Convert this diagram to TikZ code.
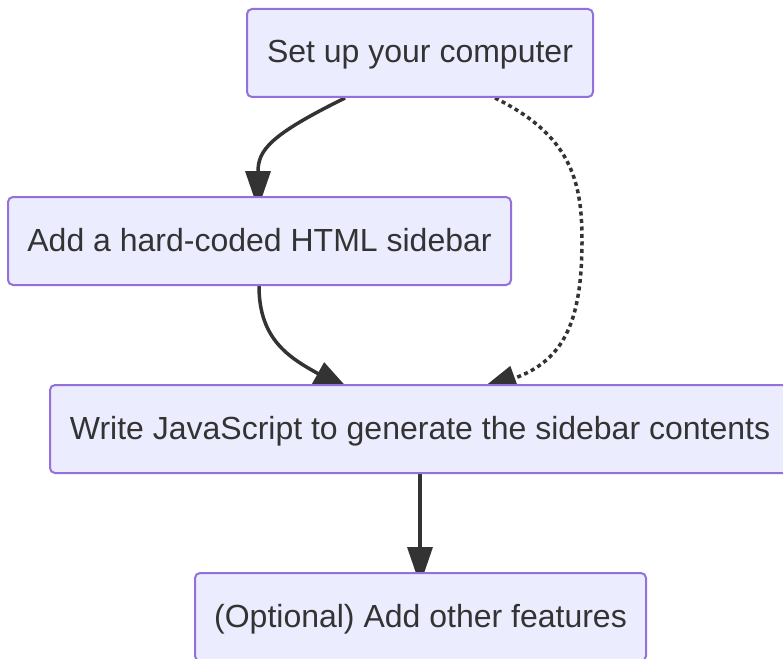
\documentclass[tikz,border=0pt]{standalone}
\usepackage{fontspec}
\setmainfont{Liberation Sans}
\usetikzlibrary{arrows.meta}
\definecolor{nodefill}{HTML}{ECECFF}
\definecolor{nodeline}{HTML}{9370DB}
\definecolor{ink}{HTML}{333333}
\pgfdeclarelayer{edges}
\pgfsetlayers{edges,main}
\begin{document}
\begin{tikzpicture}[x=1pt,y=-1pt,
  stepbox/.style={draw=nodeline, fill=nodefill, line width=2pt, rounded corners=5pt,
    minimum height=88pt, inner sep=0pt, text=ink, text height=22pt, text depth=2pt,
    font=\fontsize{32}{38}\selectfont},
  flow/.style={draw=ink, line width=3.5pt, -{Triangle[length=38pt,width=25pt]}},
  dotflow/.style={flow, dash pattern=on 4pt off 3.5pt}]
\useasboundingbox (0,0) rectangle (783,658);
\node[stepbox, minimum width=346pt] (A) at (420,53) {Set up your computer};
\node[stepbox, minimum width=503pt] (B) at (259.5,241) {Add a hard-coded HTML sidebar};
\node[stepbox, minimum width=740pt] (C) at (420,429) {Write JavaScript to generate the sidebar contents};
\node[stepbox, minimum width=451pt] (D) at (420.5,617) {(Optional) Add other features};
\coordinate (ab) at ([xshift=-1.5pt,yshift=-13pt]B.north);
\coordinate (bc) at ([xshift=-69pt,yshift=-8pt]C.north);
\coordinate (ac) at ([xshift=59pt,yshift=-7pt]C.north);
\coordinate (cd) at ([xshift=-0.5pt,yshift=-13pt]D.north);
\begin{pgfonlayer}{edges}
\fill[white] (0,0) rectangle (783,658);
\draw[flow] ([xshift=-75pt]A.south) .. controls (270,135) and (258,150) .. (ab);
\draw[flow] ([xshift=-0.5pt]B.south) .. controls (259,340) and (290,358) .. (bc);
\draw[dotflow] ([xshift=75pt]A.south) .. controls (570,135) and (582,180) .. (582,240)
  .. controls (582,320) and (565,360) .. (ac);
\draw[flow] (C.south) -- (cd);
\end{pgfonlayer}
\end{tikzpicture}
\end{document}
